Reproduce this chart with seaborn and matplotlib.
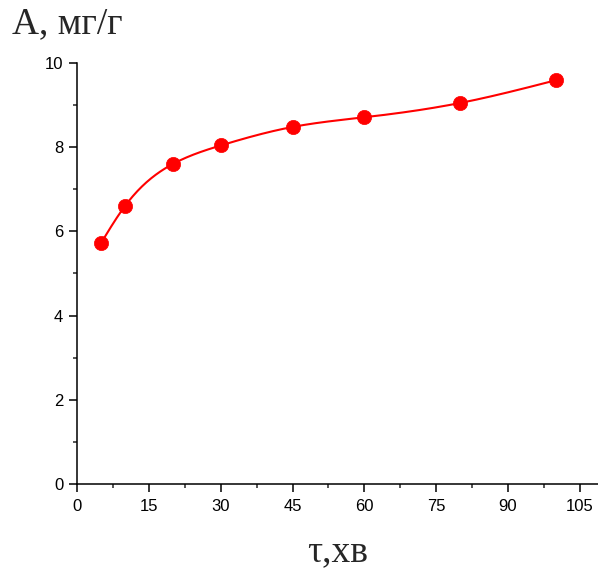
import numpy as np
import pandas as pd
import matplotlib
matplotlib.use("Agg")
import matplotlib.pyplot as plt
from matplotlib.ticker import MultipleLocator
import seaborn as sns

# Sorption kinetics: time (min) vs adsorbed amount (mg/g)
time_min = [5, 10, 20, 30, 45, 60, 80, 100]
sorption = [5.72, 6.60, 7.60, 8.04, 8.48, 8.71, 9.05, 9.59]

x_ticks = [0, 15, 30, 45, 60, 75, 90, 105]
y_ticks = [0, 2, 4, 6, 8, 10]


def natural_spline(x, y, n=400):
    """Natural cubic spline through the measured points, for a smooth trend line."""
    x = np.asarray(x, float)
    y = np.asarray(y, float)
    k = len(x)
    h = np.diff(x)
    A = np.zeros((k, k))
    b = np.zeros(k)
    A[0, 0] = A[-1, -1] = 1.0
    for i in range(1, k - 1):
        A[i, i - 1] = h[i - 1]
        A[i, i] = 2 * (h[i - 1] + h[i])
        A[i, i + 1] = h[i]
        b[i] = 3 * ((y[i + 1] - y[i]) / h[i] - (y[i] - y[i - 1]) / h[i - 1])
    c = np.linalg.solve(A, b)
    bb = (np.diff(y) / h) - h * (2 * c[:-1] + c[1:]) / 3
    d = np.diff(c) / (3 * h)
    xs = np.linspace(x[0], x[-1], n)
    idx = np.clip(np.searchsorted(x, xs) - 1, 0, k - 2)
    dx = xs - x[idx]
    ys = y[idx] + bb[idx] * dx + c[idx] * dx ** 2 + d[idx] * dx ** 3
    return xs, ys


sns.set_style("ticks")
plt.rcParams["font.family"] = ["Liberation Sans", "DejaVu Sans"]

points = pd.DataFrame({"t": time_min, "A": sorption})
sx, sy = natural_spline(time_min, sorption)
curve = pd.DataFrame({"t": sx, "A": sy})

fig = plt.figure(figsize=(5.98, 5.71), dpi=100)
ax = fig.add_axes([0.1288, 0.1524, 0.8712, 0.7373])

sns.lineplot(data=curve, x="t", y="A", ax=ax, color="#ff0000", linewidth=1.5,
             sort=False, estimator=None)
sns.scatterplot(data=points, x="t", y="A", ax=ax, color="#ff0000", s=105,
                edgecolor="#ff0000", linewidth=0.5, zorder=3)

ax.set_xlim(0, 108.8)
ax.set_ylim(0, 10)
ax.set_xticks(x_ticks)
ax.set_yticks(y_ticks)
ax.xaxis.set_minor_locator(MultipleLocator(7.5))
ax.yaxis.set_minor_locator(MultipleLocator(1))
ax.tick_params(which="major", direction="out", length=6, width=1.1,
               labelsize=12, colors="black", pad=4)
ax.tick_params(which="minor", direction="out", length=3, width=1.1)
ax.tick_params(axis="x", which="major", pad=5)

for side in ("top", "right"):
    ax.spines[side].set_visible(False)
for side in ("left", "bottom"):
    ax.spines[side].set_linewidth(1.1)
    ax.spines[side].set_color("black")

ax.set_xlabel("")
ax.set_ylabel("")

fig.text(0.02, 0.942, "А, мг/г", fontsize=27,
         family=["Liberation Serif", "DejaVu Serif"], ha="left", va="baseline")
fig.text(0.565, 0.018, "τ,хв", fontsize=27,
         family=["Liberation Serif", "DejaVu Serif"], ha="center", va="baseline")

fig.savefig("out.png", dpi=100)
